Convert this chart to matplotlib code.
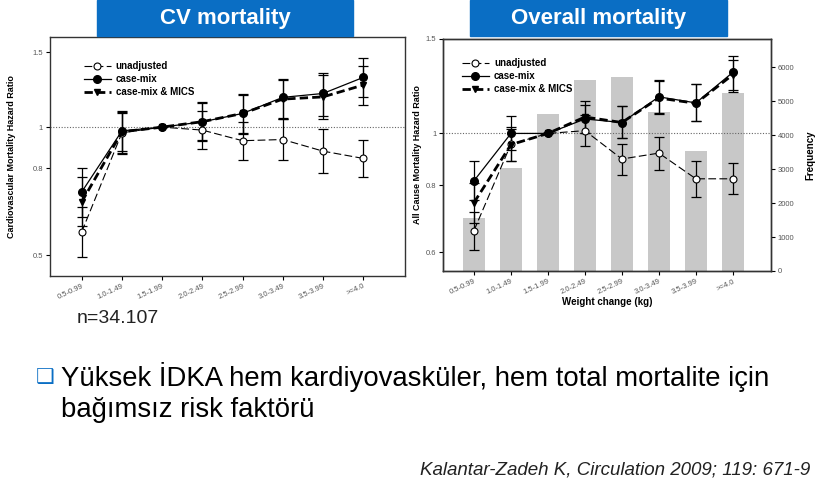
import matplotlib
matplotlib.use("Agg")
import matplotlib.pyplot as plt
from matplotlib.patches import Rectangle
from matplotlib.ticker import FixedLocator, NullLocator
import numpy as np

# weight-change categories (kg)
categories = ['0.5-0.99', '1.0-1.49', '1.5-1.99', '2.0-2.49', '2.5-2.99',
              '3.0-3.49', '3.5-3.99', '>=4.0']

# CV mortality hazard ratios (value, lower, upper)
cv_unadj = [0.567, 0.97, 1.0, 0.984, 0.929, 0.935, 0.878, 0.844]
cv_unadj_lo = [0.495, 0.865, 1.0, 0.887, 0.836, 0.836, 0.78, 0.762]
cv_unadj_hi = [0.65, 1.085, 1.0, 1.09, 1.03, 1.045, 0.988, 0.932]
cv_cm = [0.704, 0.98, 1.0, 1.029, 1.077, 1.175, 1.20, 1.309]
cv_cm_lo = [0.615, 0.878, 1.0, 0.935, 0.966, 1.044, 1.061, 1.175]
cv_cm_hi = [0.80, 1.092, 1.0, 1.147, 1.196, 1.297, 1.342, 1.451]
cv_mics = [0.667, 0.975, 1.0, 1.03, 1.077, 1.164, 1.178, 1.256]
cv_mics_lo = [0.585, 0.87, 1.0, 0.93, 0.97, 1.05, 1.046, 1.127]
cv_mics_hi = [0.762, 1.08, 1.0, 1.14, 1.19, 1.29, 1.326, 1.394]

# all cause mortality hazard ratios
ac_unadj = [0.659, 0.955, 1.0, 1.012, 0.896, 0.919, 0.823, 0.823]
ac_unadj_lo = [0.606, 0.89, 1.0, 0.948, 0.837, 0.855, 0.761, 0.771]
ac_unadj_hi = [0.715, 1.02, 1.0, 1.08, 0.957, 0.985, 0.889, 0.88]
ac_cm = [0.816, 1.0, 1.0, 1.064, 1.048, 1.17, 1.14, 1.30]
ac_cm_lo = [0.75, 0.93, 1.0, 1.0, 0.979, 1.092, 1.053, 1.207]
ac_cm_hi = [0.887, 1.076, 1.0, 1.131, 1.123, 1.26, 1.238, 1.393]
ac_mics = [0.743, 0.953, 1.0, 1.073, 1.048, 1.164, 1.138, 1.287]
ac_mics_lo = [0.68, 0.89, 1.0, 1.003, 0.979, 1.085, 1.053, 1.193]
ac_mics_hi = [0.81, 1.028, 1.0, 1.148, 1.123, 1.25, 1.238, 1.373]

# patient counts per category
freq = [1570, 3040, 4630, 5640, 5710, 4690, 3530, 5250]

BLUE = '#0a6ec4'
TICK_GRAY = '#555555'

plt.rcParams['font.family'] = ['Liberation Sans', 'DejaVu Sans']


def draw_series(ax, x, vals, lo, hi, style):
    vals = np.array(vals)
    yerr = [vals - np.array(lo), np.array(hi) - vals]
    ax.errorbar(x, vals, yerr=yerr, fmt='none', ecolor='black',
                elinewidth=0.9, capsize=3.5, capthick=0.9, zorder=3)
    line, = ax.plot(x, vals, color='black', zorder=4, **style)
    return line


styles = [
    ('unadjusted', dict(lw=0.8, dashes=(7, 3), marker='o', ms=5,
                        mfc='white', mec='black', mew=0.8)),
    ('case-mix', dict(lw=0.9, ls='-', marker='o', ms=5.5, mfc='black',
                      mec='black')),
    ('case-mix & MICS', dict(lw=2.0, dashes=(3, 1.5), marker='v', ms=5,
                             mfc='black', mec='black')),
]


def setup_hr_axis(ax, ylim, yticks, ylabels):
    ax.set_yscale('log')
    ax.set_ylim(*ylim)
    ax.yaxis.set_major_locator(FixedLocator(yticks))
    ax.yaxis.set_minor_locator(NullLocator())
    ax.set_yticklabels(ylabels)
    ax.axhline(1.0, color='#666666', lw=0.8, ls=(0, (1, 1.5)), zorder=2)
    ax.set_xticks(range(len(categories)))
    ax.set_xticklabels(categories, rotation=25, ha='right',
                       rotation_mode='anchor')
    ax.tick_params(axis='both', labelsize=5.5, labelcolor=TICK_GRAY,
                   length=3, width=0.8, direction='out', pad=2)
    for sp in ax.spines.values():
        sp.set_linewidth(1.0)
        sp.set_color('#333333')


fig = plt.figure(figsize=(8.25, 4.91), dpi=100)
x = np.arange(len(categories))

# ---- left: CV mortality
ax1 = fig.add_axes([0.0606, 0.4385, 0.4303, 0.4862])
setup_hr_axis(ax1, (0.447, 1.63), [0.5, 0.8, 1.0, 1.5],
              ['0.5', '0.8', '1', '1.5'])
ax1.set_xlim(-0.79, 8.04)
handles = []
for (name, st), d in zip(styles, [(cv_unadj, cv_unadj_lo, cv_unadj_hi),
                                  (cv_cm, cv_cm_lo, cv_cm_hi),
                                  (cv_mics, cv_mics_lo, cv_mics_hi)]):
    handles.append(draw_series(ax1, x, *d, st))
ax1.legend(handles, [s[0] for s in styles], loc='upper left',
           bbox_to_anchor=(0.07, 0.935), frameon=False,
           handlelength=2.8, labelspacing=0.3, handletextpad=0.5,
           prop={'weight': 'bold', 'size': 7})
ax1.set_ylabel('Cardiovascular Mortality Hazard Ratio', fontsize=6.5,
               fontweight='bold', labelpad=12)

# ---- right: overall mortality with frequency bars
ax2 = fig.add_axes([0.5373, 0.4481, 0.3972, 0.4725])
axf = ax2.twinx()
ax2.set_zorder(axf.get_zorder() + 1)
ax2.patch.set_visible(False)
axf.bar(x, freq, width=0.58, color='#c8c8c8', zorder=1)
axf.set_ylim(0, 6840)
axf.set_yticks([0, 1000, 2000, 3000, 4000, 5000, 6000])
axf.tick_params(axis='y', labelsize=5.5, labelcolor=TICK_GRAY, length=3,
                width=0.8, pad=2)
axf.set_ylabel('Frequency', fontsize=7, fontweight='bold', labelpad=8)
setup_hr_axis(ax2, (0.554, 1.5), [0.6, 0.8, 1.0, 1.5],
              ['0.6', '0.8', '1', '1.5'])
ax2.set_xlim(-0.83, 8.03)
handles = []
for (name, st), d in zip(styles, [(ac_unadj, ac_unadj_lo, ac_unadj_hi),
                                  (ac_cm, ac_cm_lo, ac_cm_hi),
                                  (ac_mics, ac_mics_lo, ac_mics_hi)]):
    handles.append(draw_series(ax2, x, *d, st))
ax2.legend(handles, [s[0] for s in styles], loc='upper left',
           bbox_to_anchor=(0.03, 0.955), frameon=False,
           handlelength=2.8, labelspacing=0.3, handletextpad=0.5,
           prop={'weight': 'bold', 'size': 7})
ax2.set_ylabel('All Cause Mortality Hazard Ratio', fontsize=6.5,
               fontweight='bold', labelpad=3)
ax2.set_xlabel('Weight change (kg)', fontsize=7, fontweight='bold',
               labelpad=1)
for sp in axf.spines.values():
    sp.set_linewidth(1.0)
    sp.set_color('#333333')

# ---- title boxes
for x0, w, title in [(0.1176, 0.3103, 'CV mortality'),
                     (0.5697, 0.3115, 'Overall mortality')]:
    fig.patches.append(Rectangle((x0, 0.9267), w, 0.0733,
                                 transform=fig.transFigure, color=BLUE,
                                 zorder=5))
    fig.text(x0 + w / 2, 0.963, title, color='white', fontsize=16,
             fontweight='bold', ha='center', va='center', zorder=6)

fig.text(0.093, 0.352, 'n=34.107', fontsize=14, color='#222222',
         ha='left', va='center')

fig.text(0.043, 0.232, '\u2751', fontsize=15, color=BLUE, ha='left',
         va='center', family=['DejaVu Sans'])
fig.text(0.074, 0.232, 'Yüksek İDKA hem kardiyovasküler, hem total mortalite için',
         fontsize=19.8, color='black', ha='left', va='center')
fig.text(0.074, 0.165, 'bağımsız risk faktörü', fontsize=19.8,
         color='black', ha='left', va='center')
fig.text(0.982, 0.043, 'Kalantar-Zadeh K, Circulation 2009; 119: 671-9',
         fontsize=13.5, style='italic', color='#222222', ha='right',
         va='center')

fig.savefig('out.png', dpi=100)
